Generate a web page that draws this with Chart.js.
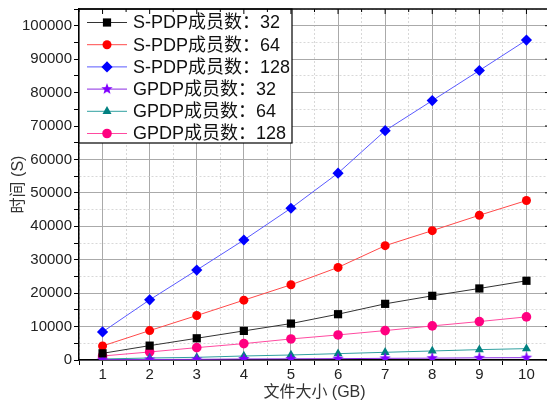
<!DOCTYPE html>
<html>
<head>
<meta charset="utf-8">
<script src="https://cdn.jsdelivr.net/npm/chart.js@4"></script>
<style>
  html, body { margin: 0; padding: 0; background: #fff; overflow: hidden; }
  #wrap { width: 550px; height: 402px; position: relative; }
</style>
</head>
<body>
<div id="wrap"><canvas id="myChart" width="550" height="402"></canvas></div>
<script>
// file size (GB) on x, time (S) on y
const sizes = [1, 2, 3, 4, 5, 6, 7, 8, 9, 10];
const spdp32 = [2000, 4300, 6500, 8700, 10900, 13700, 16800, 19200, 21400, 23700];
const spdp64 = [4200, 8800, 13300, 17900, 22500, 27700, 34200, 38700, 43300, 47700];
const spdp128 = [8400, 18000, 26900, 35900, 45400, 55900, 68600, 77600, 86600, 95700];
const gpdp32 = [100, 150, 200, 300, 350, 400, 500, 550, 650, 700];
const gpdp64 = [300, 600, 800, 1200, 1500, 1900, 2300, 2700, 3100, 3400];
const gpdp128 = [1200, 2400, 3700, 4900, 6300, 7500, 8800, 10200, 11500, 12900];
const seriesNames = ['S-PDP成员数：32', 'S-PDP成员数：64', 'S-PDP成员数：128', 'GPDP成员数：32', 'GPDP成员数：64', 'GPDP成员数：128'];
const xTitle = '文件大小 (GB)';
const yTitle = '时间 (S)';

const FONT = "'Liberation Sans', Arial, 'Noto Sans CJK SC', sans-serif";

// filled 5 point star, chart.js 'star' is only an asterisk
function makeStar(color, r) {
    let c = document.createElement('canvas');
    c.width = r * 2 + 2; c.height = r * 2 + 2;
    let g = c.getContext('2d');
    let cx = r + 1, cy = r + 1;
    g.beginPath();
    for (let i = 0; i < 10; i++) {
        let rad = i % 2 == 0 ? r : r * 0.42;
        let a = -Math.PI / 2 + i * Math.PI / 5;
        g.lineTo(cx + rad * Math.cos(a), cy + rad * Math.sin(a));
    }
    g.closePath();
    g.fillStyle = color;
    g.fill();
    return c;
}
const starImg = makeStar('#8000ff', 6);

function pts(arr) {
    return sizes.map((x, i) => ({ x: x, y: arr[i] }));
}

// lines are drawn a bit paler than the markers, like the original
function ds(label, arr, color, lineColor, style, radius) {
    return {
        label: label,
        data: pts(arr),
        borderColor: lineColor,
        backgroundColor: color,
        pointBackgroundColor: color,
        borderWidth: 1,
        pointStyle: style,
        pointRadius: radius,
        pointHoverRadius: radius,
        pointBorderWidth: 0,
        tension: 0
    };
}

const datasets = [
    ds(seriesNames[0], spdp32, '#000000', '#333333', 'rect', 5.8),
    ds(seriesNames[1], spdp64, '#ff0000', '#ff4a4a', 'circle', 4.5),
    ds(seriesNames[2], spdp128, '#0000ff', '#5a5aff', 'rectRot', 5.6),
    ds(seriesNames[3], gpdp32, '#8000ff', '#8a2be2', starImg, 6),
    ds(seriesNames[4], gpdp64, '#008080', '#30a0a0', 'triangle', 5.2),
    ds(seriesNames[5], gpdp128, '#ff0080', '#ff4aa0', 'circle', 4.8)
];

// legend box inside the plot, top left
const insideLegend = {
    id: 'insideLegend',
    afterDatasetsDraw(chart) {
        const ctx = chart.ctx;
        const a = chart.chartArea;
        const x0 = a.left, y0 = a.top, w = 213, h = 134;
        ctx.save();
        ctx.fillStyle = '#fff';
        ctx.fillRect(x0, y0, w, h);
        ctx.strokeStyle = '#000';
        ctx.lineWidth = 1.2;
        ctx.strokeRect(x0, y0, w, h);
        chart.data.datasets.forEach((d, i) => {
            let y = y0 + 13.5 + i * 22.2;
            ctx.strokeStyle = d.borderColor;
            ctx.lineWidth = 1;
            ctx.beginPath();
            ctx.moveTo(x0 + 8, y);
            ctx.lineTo(x0 + 48, y);
            ctx.stroke();
            ctx.fillStyle = d.backgroundColor;
            Chart.helpers.drawPoint(ctx, { pointStyle: d.pointStyle, radius: d.pointRadius, rotation: 0, borderWidth: 0 }, x0 + 28, y);
            ctx.fillStyle = '#111';
            ctx.font = '18px ' + FONT;
            ctx.textBaseline = 'middle';
            ctx.textAlign = 'left';
            ctx.fillText(d.label, x0 + 54, y + 1);
        });
        ctx.restore();
    }
};

// top / right frame with inward ticks like the original plot
const frame = {
    id: 'frame',
    afterDraw(chart) {
        const ctx = chart.ctx;
        const a = chart.chartArea;
        const xs = chart.scales.x, ys = chart.scales.y;
        ctx.save();
        ctx.strokeStyle = '#000';
        ctx.lineWidth = 1.5;
        ctx.beginPath();
        ctx.moveTo(a.left, a.top); ctx.lineTo(a.right, a.top);
        ctx.moveTo(a.right, a.top); ctx.lineTo(a.right, a.bottom);
        ctx.stroke();
        ctx.lineWidth = 1;
        ctx.beginPath();
        xs.ticks.forEach(t => {
            let px = xs.getPixelForValue(t.value);
            let len = Number.isInteger(t.value) ? 5 : 3;
            ctx.moveTo(px, a.top); ctx.lineTo(px, a.top + len);
        });
        ys.ticks.forEach(t => {
            let py = ys.getPixelForValue(t.value);
            let len = t.value % 10000 == 0 ? 5 : 3;
            ctx.moveTo(a.right, py); ctx.lineTo(a.right - len, py);
        });
        ctx.stroke();
        ctx.restore();
    }
};

var ctx = document.getElementById('myChart').getContext('2d');
var chart = new Chart(ctx, {
    type: 'line',
    data: { datasets: datasets },
    plugins: [insideLegend, frame],
    options: {
        responsive: false,
        animation: false,
        devicePixelRatio: 1,
        layout: { autoPadding: false, padding: { top: 9, right: 0, left: 0, bottom: 0 } },
        plugins: { legend: { display: false }, tooltip: { enabled: false } },
        scales: {
            x: {
                type: 'linear',
                min: 0.5,
                max: 10.5,
                afterFit: (s) => { s.height = 42; s.paddingLeft = 0; s.paddingRight = 0; },
                ticks: {
                    stepSize: 0.5,
                    autoSkip: false,
                    maxRotation: 0,
                    padding: 1,
                    color: '#222',
                    font: { family: FONT, size: 15 },
                    callback: (v) => Number.isInteger(v) ? String(v) : ''
                },
                grid: {
                    color: (c) => c.tick && Number.isInteger(c.tick.value) ? '#aaaaaa' : '#d8d8d8',
                    tickColor: '#000',
                    tickLength: 5
                },
                border: {
                    color: '#000',
                    width: 1.5,
                    dash: (c) => c.tick && !Number.isInteger(c.tick.value) ? [2, 2] : []
                },
                title: {
                    display: true,
                    text: xTitle,
                    color: '#333',
                    font: { family: FONT, size: 16 },
                    padding: { top: 0, bottom: 0 }
                }
            },
            y: {
                type: 'linear',
                min: 0,
                max: 105000,
                afterFit: (s) => { s.width = 79; s.paddingTop = 0; s.paddingBottom = 0; },
                ticks: {
                    stepSize: 5000,
                    autoSkip: false,
                    padding: 2,
                    color: '#222',
                    font: { family: FONT, size: 15 },
                    callback: (v) => v % 10000 == 0 ? String(v) : ''
                },
                grid: {
                    color: (c) => c.tick && c.tick.value % 10000 == 0 ? '#aaaaaa' : '#d8d8d8',
                    tickColor: '#000',
                    tickLength: 5
                },
                border: {
                    color: '#000',
                    width: 1.5,
                    dash: (c) => c.tick && c.tick.value % 10000 != 0 ? [2, 2] : []
                },
                title: {
                    display: true,
                    text: yTitle,
                    color: '#333',
                    font: { family: FONT, size: 16 },
                    padding: { top: 9, bottom: 0 }
                }
            }
        }
    }
});
</script>
</body>
</html>
